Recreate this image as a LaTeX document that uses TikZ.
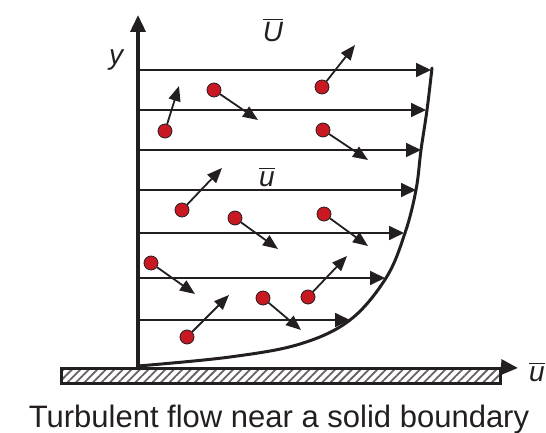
\documentclass[tikz,border=0pt]{standalone}
\usepackage{fontspec}
\setmainfont{Liberation Sans}
\usepackage{tikz}
\usetikzlibrary{arrows.meta,patterns.meta}
\definecolor{dotred}{RGB}{200,25,35}
\definecolor{ink}{RGB}{35,31,32}
\newcommand{\mbar}[1]{\(\overline{\mbox{\itshape #1}}\)}

\begin{document}
\begin{tikzpicture}[
  x=0.5pt, y=-0.5pt,
  axis/.style={line width=1.8pt, draw=ink, -{Triangle[length=8.5pt,width=7.5pt]}},
  flow/.style={line width=0.9pt, draw=ink, -{Triangle[length=7.5pt,width=7pt]}},
  vel/.style={line width=0.9pt, draw=ink, -{Triangle[length=7.5pt,width=6pt]}},
  dot/.style={circle, fill=dotred, draw=ink, line width=0.4pt,
    minimum size=7pt, inner sep=0pt},
  wall/.style={draw=ink, line width=1.5pt,
    pattern={Lines[angle=45,distance=3pt,line width=0.9pt]},
    pattern color=ink!70, minimum width=219.5pt, minimum height=7.5pt,
    inner sep=0pt},
  lbl/.style={font=\fontsize{14}{16}\selectfont, text=ink, inner sep=0pt}
]
\useasboundingbox (0,0) rectangle (546,433);

% wall and axes
\node[wall] (wall) at (280.5,375.5) {};
\coordinate (O) at (138,368);
\coordinate (ytip) at (138,15);
\coordinate (xtip) at (518,368);
\draw[axis] (O) -- (ytip);
\draw[axis] (wall.north east) -- (xtip);
\node[lbl] (ylab) at (116,60) {\itshape y};
\node[lbl] (ubar) at (537,372) {\mbar{u}};

% mean velocity profile
\draw[line width=1.5pt, ink, line cap=round] plot[smooth, tension=0.6] coordinates
  {(138,366) (230,357) (300,344) (350,320) (386,278) (405,233)
   (416,190) (421,150) (427,110) (432,68)};
\node[lbl] (Ubar) at (273,30) {\mbar{U}};
\node[lbl] (umean) at (267,177) {\mbar{u}};

% mean flow arrows
\coordinate (a1) at (138,70);  \coordinate (b1) at (431,70);
\coordinate (a2) at (138,110); \coordinate (b2) at (426,110);
\coordinate (a3) at (138,150); \coordinate (b3) at (421,150);
\coordinate (a4) at (138,190); \coordinate (b4) at (416,190);
\coordinate (a5) at (138,233); \coordinate (b5) at (404,233);
\coordinate (a6) at (138,278); \coordinate (b6) at (385,278);
\coordinate (a7) at (138,320); \coordinate (b7) at (350,320);
\draw[flow] (a1) -- (b1);
\draw[flow] (a2) -- (b2);
\draw[flow] (a3) -- (b3);
\draw[flow] (a4) -- (b4);
\draw[flow] (a5) -- (b5);
\draw[flow] (a6) -- (b6);
\draw[flow] (a7) -- (b7);

% fluid particles with fluctuating velocity
\node[dot] (p1) at (165,131) {};  \coordinate (t1) at (179,86);
\node[dot] (p2) at (214,90) {};   \coordinate (t2) at (258,120);
\node[dot] (p3) at (322,87) {};   \coordinate (t3) at (355,45);
\node[dot] (p4) at (323,130) {};  \coordinate (t4) at (368,160);
\node[dot] (p5) at (182,210) {};  \coordinate (t5) at (222,168);
\node[dot] (p6) at (235,218) {};  \coordinate (t6) at (278,249);
\node[dot] (p7) at (324,214) {};  \coordinate (t7) at (368,246);
\node[dot] (p8) at (151,263) {};  \coordinate (t8) at (195,294);
\node[dot] (p9) at (263,298) {};  \coordinate (t9) at (301,330);
\node[dot] (p10) at (308,297) {}; \coordinate (t10) at (347,256);
\node[dot] (p11) at (187,337) {}; \coordinate (t11) at (229,295);
\draw[vel] (p1) -- (t1);
\draw[vel] (p2) -- (t2);
\draw[vel] (p3) -- (t3);
\draw[vel] (p4) -- (t4);
\draw[vel] (p5) -- (t5);
\draw[vel] (p6) -- (t6);
\draw[vel] (p7) -- (t7);
\draw[vel] (p8) -- (t8);
\draw[vel] (p9) -- (t9);
\draw[vel] (p10) -- (t10);
\draw[vel] (p11) -- (t11);

\node[font=\fontsize{15.5}{18}\selectfont, text=ink, anchor=base] (cap) at (279,427)
  {Turbulent flow near a solid boundary};
\end{tikzpicture}
\end{document}
